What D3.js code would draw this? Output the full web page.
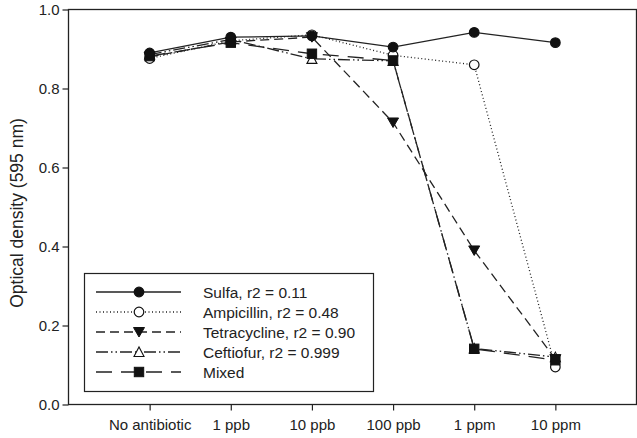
<!DOCTYPE html>
<html><head><meta charset="utf-8">
<script src="https://cdn.jsdelivr.net/npm/d3@7"></script>
<style>body{margin:0;background:#fff}svg{display:block;font-family:"Liberation Sans",Arial,sans-serif}</style>
</head><body><svg id="c" width="637" height="438"></svg>
<script>
const categories = ["No antibiotic","1 ppb","10 ppb","100 ppb","1 ppm","10 ppm"];
const sulfa = [0.890,0.930,0.933,0.905,0.942,0.916];
const ampicillin = [0.876,0.921,0.936,0.884,0.860,0.095];
const tetracycline = [0.880,0.918,0.930,0.714,0.390,0.115];
const ceftiofur = [0.886,0.924,0.875,0.870,0.142,0.120];
const mixed = [0.882,0.916,0.888,0.871,0.141,0.112];
const seriesNames = ["Sulfa, r2 = 0.11","Ampicillin, r2 = 0.48","Tetracycline, r2 = 0.90","Ceftiofur, r2 = 0.999","Mixed"];
const yTicks = [0.0,0.2,0.4,0.6,0.8,1.0];

const styles = [
  {dash:null, sym:"circle", fill:"#111"},
  {dash:"1,2.5", sym:"circle", fill:"#fff"},
  {dash:"9,5", sym:"tri-down", fill:"#111"},
  {dash:"12,3,1.5,3,1.5,3", sym:"tri-up", fill:"#fff"},
  {dash:"16,9", sym:"square", fill:"#111"}
];
const data = [sulfa,ampicillin,tetracycline,ceftiofur,mixed];

const svg = d3.select("#c");
const L=68.5, R=636.5, T=9.5, B=404.5;
const x = d3.scaleLinear().domain([0,categories.length+1]).range([L,R]);
const y = d3.scaleLinear().domain([0,1]).range([B,T]);
const ink="#222";
const FF="Liberation Sans, Arial, sans-serif";

svg.append("rect").attr("x",L).attr("y",T).attr("width",R-L).attr("height",B-T)
  .attr("fill","none").attr("stroke",ink).attr("stroke-width",1.3);

const ya = svg.append("g").attr("transform",`translate(${L},0)`)
  .call(d3.axisLeft(y).tickValues(yTicks).tickFormat(d3.format(".1f")).tickSize(6).tickPadding(3));
ya.select(".domain").remove();
ya.selectAll("line").attr("stroke",ink).attr("stroke-width",1.2);
ya.selectAll("text").attr("font-size",15).attr("fill","#222").attr("font-family",FF);

const xa = svg.append("g").attr("transform",`translate(0,${B})`)
  .call(d3.axisBottom(x).tickValues(categories.map((c,i)=>i+1)).tickFormat(i=>categories[i-1]).tickSize(6).tickPadding(9));
xa.select(".domain").remove();
xa.selectAll("line").attr("stroke",ink).attr("stroke-width",1.2);
xa.selectAll("text").attr("font-size",15).attr("fill","#222").attr("font-family",FF);

svg.append("text").attr("transform",`translate(23,${(T+B)/2+6}) rotate(-90)`)
  .attr("text-anchor","middle").attr("font-size",17.5).attr("fill","#222").attr("font-family",FF).text("Optical density (595 nm)");

function symbol(g, type, fill, cx, cy){
  if(type==="circle"){
    g.append("circle").attr("cx",cx).attr("cy",cy).attr("r",4.8).attr("fill",fill).attr("stroke","#111").attr("stroke-width",1.2);
  } else if(type==="square"){
    g.append("rect").attr("x",cx-4.7).attr("y",cy-4.7).attr("width",9.4).attr("height",9.4).attr("fill",fill).attr("stroke","#111").attr("stroke-width",1);
  } else if(type==="tri-down"){
    g.append("path").attr("d",`M${cx-5.5},${cy-4.5}L${cx+5.5},${cy-4.5}L${cx},${cy+5}Z`).attr("fill",fill).attr("stroke","#111").attr("stroke-width",1);
  } else {
    g.append("path").attr("d",`M${cx-5},${cy+4.5}L${cx+5},${cy+4.5}L${cx},${cy-5}Z`).attr("fill",fill).attr("stroke","#111").attr("stroke-width",1.1);
  }
}

const line = d3.line().x((d,i)=>x(i+1)).y(d=>y(d));
data.forEach((vals,k)=>{
  svg.append("path").attr("d",line(vals)).attr("fill","none").attr("stroke","#222")
    .attr("stroke-width",1.3).attr("stroke-dasharray",styles[k].dash);
});
[3,2,1,4,0].forEach(k=>{
  const g = svg.append("g");
  data[k].forEach((v,i)=>symbol(g,styles[k].sym,styles[k].fill,x(i+1),y(v)));
});

const lg = svg.append("g");
lg.append("rect").attr("x",84.5).attr("y",273.5).attr("width",289).attr("height",118)
  .attr("fill","#fff").attr("stroke",ink).attr("stroke-width",1.2);
seriesNames.forEach((n,k)=>{
  const yy = 292 + k*20;
  lg.append("line").attr("x1",96).attr("x2",181).attr("y1",yy).attr("y2",yy)
    .attr("stroke","#222").attr("stroke-width",1.3).attr("stroke-dasharray",styles[k].dash);
  symbol(lg,styles[k].sym,styles[k].fill,139,yy);
  lg.append("text").attr("x",203).attr("y",yy+5.5).attr("font-size",15.5).attr("fill","#222").attr("font-family",FF).text(n);
});
</script></body></html>
